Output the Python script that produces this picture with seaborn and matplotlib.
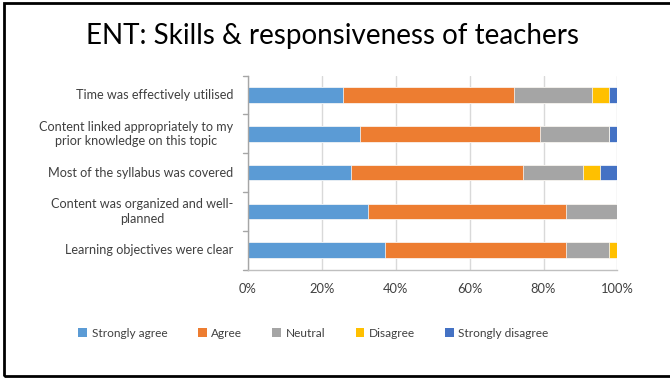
import matplotlib
matplotlib.use("Agg")
import matplotlib.pyplot as plt
from matplotlib.patches import Rectangle, Patch
import numpy as np
import pandas as pd
import seaborn as sns

# Survey statements (top to bottom)
statements = [
    "Time was effectively utilised",
    "Content linked appropriately to my\nprior knowledge on this topic",
    "Most of the syllabus was covered",
    "Content was organized and well-\nplanned",
    "Learning objectives were clear",
]
responses = ["Strongly agree", "Agree", "Neutral", "Disagree", "Strongly disagree"]

# Share of respondents (%) per response
strongly_agree = [25.6, 30.2, 27.9, 32.6, 37.2]
agree = [46.5, 48.8, 46.5, 53.5, 48.8]
neutral = [20.9, 18.6, 16.3, 14.0, 11.6]
disagree = [4.7, 0.0, 4.65, 0.0, 2.3]
strongly_disagree = [2.3, 2.3, 4.65, 0.0, 0.0]

colors = ["#5B9BD5", "#ED7D31", "#A5A5A5", "#FFC000", "#4472C4"]

sns.set_theme(style="white")
plt.rcParams["font.family"] = ["Lato", "DejaVu Sans"]

df = pd.DataFrame(
    {
        "statement": statements,
        "Strongly agree": strongly_agree,
        "Agree": agree,
        "Neutral": neutral,
        "Disagree": disagree,
        "Strongly disagree": strongly_disagree,
    }
)
cum = df[responses].cumsum(axis=1)

fig = plt.figure(figsize=(6.70, 3.78), dpi=100)
ax = fig.add_axes([0.370, 0.287, 0.5516, 0.513])

# Stacked bars: draw cumulative totals from the outermost segment inward
for resp, col in reversed(list(zip(responses, colors))):
    sns.barplot(
        x=cum[resp].values, y=df["statement"], order=statements, orient="h",
        color=col, width=0.4, edgecolor="white", linewidth=0.5, ax=ax,
        saturation=1,
    )

ax.set_xlim(0, 100)
ax.set_ylim(4.5, -0.5)
ax.set_xticks(np.arange(0, 101, 20))
ax.set_xticklabels([f"{v}%" for v in range(0, 101, 20)], fontsize=9.3, color="#404040")
ax.set_xlabel("")
ax.set_ylabel("")
ax.xaxis.grid(True, color="#D9D9D9", linewidth=1)
ax.set_axisbelow(True)
ax.tick_params(axis="x", length=3, width=1, color="#BFBFBF", pad=7)
ax.tick_params(axis="y", length=0)
ax.set_yticklabels([])

# category labels, centred line by line and right-aligned to the axis
for i, s in enumerate(statements):
    ax.text(-0.04, i, s, transform=ax.get_yaxis_transform(), ha="right",
            va="center", ma="center", fontsize=9.1,
            color="#404040", linespacing=1.25)

for s in ["top", "right"]:
    ax.spines[s].set_visible(False)
ax.spines["left"].set_color("#A6A6A6")
ax.spines["bottom"].set_color("#BFBFBF")
ax.spines["left"].set_linewidth(1)
ax.spines["bottom"].set_linewidth(1)

# small category separators on the left axis
for yb in np.arange(-0.5, 5, 1.0):
    ax.plot([-0.012, 0], [yb, yb], transform=ax.get_yaxis_transform(),
            color="#A6A6A6", lw=1, clip_on=False)

fig.text(0.497, 0.905, "ENT: Skills & responsiveness of teachers",
         ha="center", va="center", fontsize=20, color="black")

handles = [Patch(facecolor=c, edgecolor="none") for c in colors]
fig.legend(handles, responses, loc="center", bbox_to_anchor=(0.468, 0.119),
           ncol=5, frameon=False, fontsize=8.6, handlelength=0.75,
           handleheight=0.75, handletextpad=0.35, columnspacing=2.55,
           labelcolor="#404040")

# slide frame
fig.patches.append(Rectangle((4 / 670, 2 / 378), 700 / 670, 373 / 378,
                             transform=fig.transFigure, fill=False,
                             edgecolor="black", linewidth=2))

fig.savefig("out.png", dpi=100)
